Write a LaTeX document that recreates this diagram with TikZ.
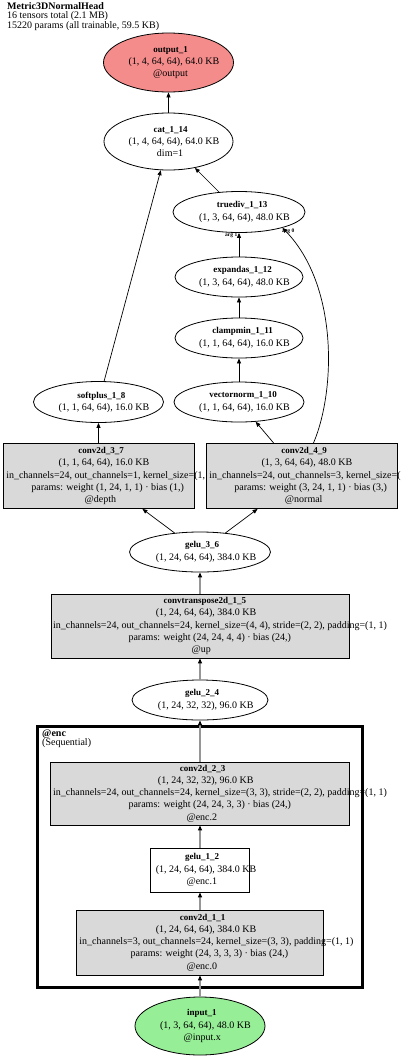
\documentclass[tikz,border=0pt]{standalone}
\usepackage{fontspec}
\setmainfont{Liberation Serif}
\usetikzlibrary{shapes.geometric,arrows.meta,calc}
\newlength\gvw
\newcommand\GL[1]{\settowidth{\gvw}{#1}\makebox[0pt][l]{\hspace*{-0.44\gvw}#1}}
\newcommand\GB[1]{\GL{\fontsize{9}{12.2}\selectfont\bfseries #1}}
\definecolor{outred}{RGB}{245,140,140}
\definecolor{ingreen}{RGB}{150,238,150}
\definecolor{boxgray}{RGB}{217,217,217}
\definecolor{edgegray}{RGB}{150,150,150}
\begin{document}
\begin{tikzpicture}[x=1pt,y=-1pt,
  every node/.style={font=\fontsize{10}{12.2}\selectfont, inner sep=0pt, align=center},
  ell/.style={draw, ellipse, line width=0.8pt},
  gbox/.style={draw, rectangle, fill=boxgray, line width=0.8pt},
  wbox/.style={draw, rectangle, fill=white, line width=0.8pt},
  cluster/.style={draw, rectangle, line width=3pt},
  edge/.style={line width=0.7pt, -{Triangle[length=5pt,width=4pt]}},
  trunk/.style={line width=1.5pt, draw=edgegray, -{Triangle[length=5pt,width=4pt,color=black]}},
  arglab/.style={font=\fontsize{5.5}{6}\selectfont\bfseries, anchor=west},
  hdr/.style={anchor=north west, align=left, font=\fontsize{10}{9.5}\selectfont}
]
\useasboundingbox (0,0) rectangle (400,1058);

% header
\node[hdr] (title) at (7,2) {\textbf{Metric3DNormalHead}\\16 tensors total (2.1 MB)\\15220 params (all trainable, 59.5 KB)};

% cluster
\node[cluster, minimum width=325pt, minimum height=261pt] (enc) at (200,856.5) {};
\node[hdr] (enclab) at (42,729.5) {\textbf{@enc}\\(Sequential)};

% nodes
\node[ell, fill=outred, minimum width=130pt, minimum height=59pt] (output) at (168.5,62.5)
  {\GB{output\_1}\\\GL{(1, 4, 64, 64), 64.0 KB}\\\GL{@output}};
\node[ell, minimum width=129pt, minimum height=57pt] (cat) at (168.5,141.5)
  {\GB{cat\_1\_14}\\\GL{(1, 4, 64, 64), 64.0 KB}\\\GL{dim=1}};
\node[ell, minimum width=132pt, minimum height=41pt] (truediv) at (239,212)
  {\GB{truediv\_1\_13}\\\GL{(1, 3, 64, 64), 48.0 KB}};
\node[ell, minimum width=128pt, minimum height=40pt] (expandas) at (239,277)
  {\GB{expandas\_1\_12}\\\GL{(1, 3, 64, 64), 48.0 KB}};
\node[ell, minimum width=128pt, minimum height=40pt] (clampmin) at (239,338)
  {\GB{clampmin\_1\_11}\\\GL{(1, 1, 64, 64), 16.0 KB}};
\node[ell, minimum width=130pt, minimum height=40pt] (vectornorm) at (239,402)
  {\GB{vectornorm\_1\_10}\\\GL{(1, 1, 64, 64), 16.0 KB}};
\node[ell, minimum width=130pt, minimum height=41pt] (softplus) at (98.5,402)
  {\GB{softplus\_1\_8}\\\GL{(1, 1, 64, 64), 16.0 KB}};
\node[gbox, minimum width=191pt, minimum height=65pt] (c37) at (98.5,476)
  {\GB{conv2d\_3\_7}\\\GL{(1, 1, 64, 64), 16.0 KB}\\\GL{in\_channels=24, out\_channels=1, kernel\_size=(1, 1)}\\\GL{params: weight (1, 24, 1, 1) · bias (1,)}\\\GL{@depth}};
\node[gbox, minimum width=191pt, minimum height=65pt] (c49) at (301.5,476)
  {\GB{conv2d\_4\_9}\\\GL{(1, 3, 64, 64), 48.0 KB}\\\GL{in\_channels=24, out\_channels=3, kernel\_size=(1, 1)}\\\GL{params: weight (3, 24, 1, 1) · bias (3,)}\\\GL{@normal}};
\node[ell, minimum width=141pt, minimum height=40pt] (gelu36) at (200,552)
  {\GB{gelu\_3\_6}\\\GL{(1, 24, 64, 64), 384.0 KB}};
\node[gbox, minimum width=298pt, minimum height=64pt] (convT) at (200,626)
  {\GB{convtranspose2d\_1\_5}\\\GL{(1, 24, 64, 64), 384.0 KB}\\\GL{in\_channels=24, out\_channels=24, kernel\_size=(4, 4), stride=(2, 2), padding=(1, 1)}\\\GL{params: weight (24, 24, 4, 4) · bias (24,)}\\\GL{@up}};
\node[ell, minimum width=136pt, minimum height=40pt] (gelu24) at (200,700)
  {\GB{gelu\_2\_4}\\\GL{(1, 24, 32, 32), 96.0 KB}};
\node[gbox, minimum width=299pt, minimum height=63pt] (c23) at (200,793.5)
  {\GB{conv2d\_2\_3}\\\GL{(1, 24, 32, 32), 96.0 KB}\\\GL{in\_channels=24, out\_channels=24, kernel\_size=(3, 3), stride=(2, 2), padding=(1, 1)}\\\GL{params: weight (24, 24, 3, 3) · bias (24,)}\\\GL{@enc.2}};
\node[wbox, minimum width=99pt, minimum height=44pt] (gelu12) at (200,870)
  {\GB{gelu\_1\_2}\\\GL{(1, 24, 64, 64), 384.0 KB}\\\GL{@enc.1}};
\node[gbox, minimum width=247pt, minimum height=65pt] (c11) at (200,942.5)
  {\GB{conv2d\_1\_1}\\\GL{(1, 24, 64, 64), 384.0 KB}\\\GL{in\_channels=3, out\_channels=24, kernel\_size=(3, 3), padding=(1, 1)}\\\GL{params: weight (24, 3, 3, 3) · bias (24,)}\\\GL{@enc.0}};
\node[ell, fill=ingreen, minimum width=130pt, minimum height=58pt] (input) at (200,1026)
  {\GB{input\_1}\\\GL{(1, 3, 64, 64), 48.0 KB}\\\GL{@input.x}};

% edge labels
\node[arglab] (arg1) at (225,235.5) {arg 1};
\node[arglab] (arg0) at (282,231) {arg 0};

% edges
\draw[trunk] (input) -- (c11);
\draw[trunk] (c11) -- (gelu12);
\draw[trunk] (gelu12) -- (c23);
\draw[trunk] (c23) -- (gelu24);
\draw[trunk] (gelu24) -- (convT);
\draw[trunk] (convT) -- (gelu36);
\draw[edge] (gelu36) -- (c37);
\draw[edge] (gelu36) -- (c49);
\draw[edge] (c37) -- (softplus);
\draw[edge] (c49) -- (vectornorm);
\draw[edge] (c49.70) .. controls (336,390) and (338,285) .. (truediv.-20);
\draw[edge] (vectornorm) -- (clampmin);
\draw[edge] (clampmin) -- (expandas);
\draw[edge] (expandas) -- (truediv);
\draw[edge] (softplus) -- (cat);
\draw[edge] (truediv) -- (cat);
\draw[edge] (cat) -- (output);
\end{tikzpicture}
\end{document}
